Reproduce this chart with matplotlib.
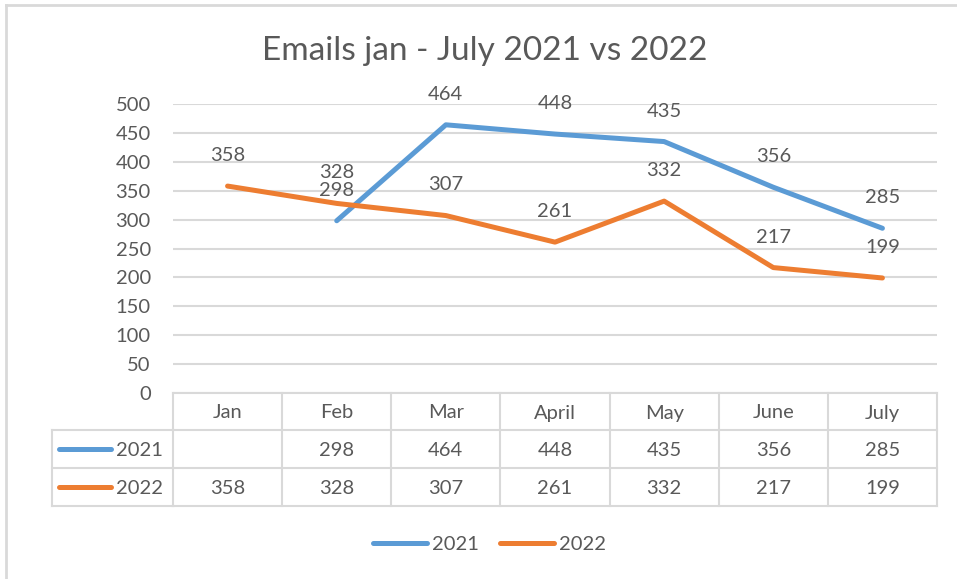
import matplotlib.pyplot as plt
import matplotlib.transforms as mtransforms
from matplotlib.lines import Line2D
import numpy as np

months = ['Jan', 'Feb', 'Mar', 'April', 'May', 'June', 'July']
emails_2021 = [np.nan, 298, 464, 448, 435, 356, 285]
emails_2022 = [358, 328, 307, 261, 332, 217, 199]
series_names = ['2021', '2022']
colors = ['#5B9BD5', '#ED7D31']

plt.rcParams['font.family'] = ['Lato', 'DejaVu Sans']
TXT = '#595959'
GRID = '#d9d9d9'
FS = 14.5

W, H = 957, 579
fig = plt.figure(figsize=(W / 100, H / 100), dpi=100)

def fx(px):
    return px / W

def fy(py):
    return 1 - py / H

ax = fig.add_axes([fx(173), fy(393), fx(937) - fx(173), fy(104) - fy(393)])
x = np.arange(len(months))

for vals, name, col in zip([emails_2021, emails_2022], series_names, colors):
    ax.plot(x, vals, color=col, lw=3.6, solid_capstyle='round', solid_joinstyle='round',
            label=name, zorder=3)
    for xi, v in zip(x, vals):
        if not np.isnan(v):
            ax.annotate(f'{int(v)}', (xi, v), xytext=(0, 22), textcoords='offset points',
                        ha='center', va='center', fontsize=FS, color=TXT)

ax.set_xlim(-0.5, len(months) - 0.5)
ax.set_ylim(0, 500)
ax.set_yticks(np.arange(0, 501, 50))
ax.grid(axis='y', color=GRID, lw=1.5)
ax.set_axisbelow(True)
ax.set_xticks([])
for s in ax.spines.values():
    s.set_visible(False)
ax.tick_params(axis='y', length=0, pad=16, labelsize=FS, labelcolor=TXT)

# data table under the chart
trans = mtransforms.blended_transform_factory(ax.transData, fig.transFigure)
row_edges = [393, 430, 468, 506]
for i in range(len(months) + 1):
    fig.add_artist(Line2D([i - 0.5, i - 0.5], [fy(393), fy(506)], transform=trans,
                          color=GRID, lw=1.5))
for py in row_edges:
    fig.add_artist(Line2D([-0.5, len(months) - 0.5], [fy(py), fy(py)], transform=trans,
                          color=GRID, lw=1.5))
for py in row_edges[1:]:
    fig.add_artist(Line2D([fx(52), fx(173)], [fy(py), fy(py)], transform=fig.transFigure,
                          color=GRID, lw=1.5))
fig.add_artist(Line2D([fx(52), fx(52)], [fy(430), fy(506)], transform=fig.transFigure,
                      color=GRID, lw=1.5))

for xi, m in zip(x, months):
    fig.text(xi, fy(413), m, transform=trans, ha='center', va='center', fontsize=FS, color=TXT)

for vals, name, col, py in zip([emails_2021, emails_2022], series_names, colors, [450, 488]):
    fig.add_artist(Line2D([fx(59), fx(111)], [fy(py - 1), fy(py - 1)], transform=fig.transFigure,
                          color=col, lw=3.6, solid_capstyle='round'))
    fig.text(fx(116), fy(py), name, ha='left', va='center', fontsize=FS, color=TXT)
    for xi, v in zip(x, vals):
        if not np.isnan(v):
            fig.text(xi, fy(py), f'{int(v)}', transform=trans, ha='center', va='center',
                     fontsize=FS, color=TXT)

# legend at the bottom
for name, col, x0 in zip(series_names, colors, [373, 500]):
    fig.add_artist(Line2D([fx(x0), fx(x0 + 54)], [fy(543), fy(543)], transform=fig.transFigure,
                          color=col, lw=3.6, solid_capstyle='round'))
    fig.text(fx(x0 + 59), fy(544), name, ha='left', va='center', fontsize=FS, color=TXT)

fig.text(fx(485), fy(51), 'Emails jan - July 2021 vs 2022', ha='center', va='center',
         fontsize=24, color=TXT)

# chart frame (cropped at right and bottom)
fig.add_artist(Line2D([fx(6), 1], [fy(5), fy(5)], transform=fig.transFigure, color=GRID, lw=2))
fig.add_artist(Line2D([fx(6), fx(6)], [fy(5), 0], transform=fig.transFigure, color=GRID, lw=2))

fig.savefig('out.png', dpi=100)
